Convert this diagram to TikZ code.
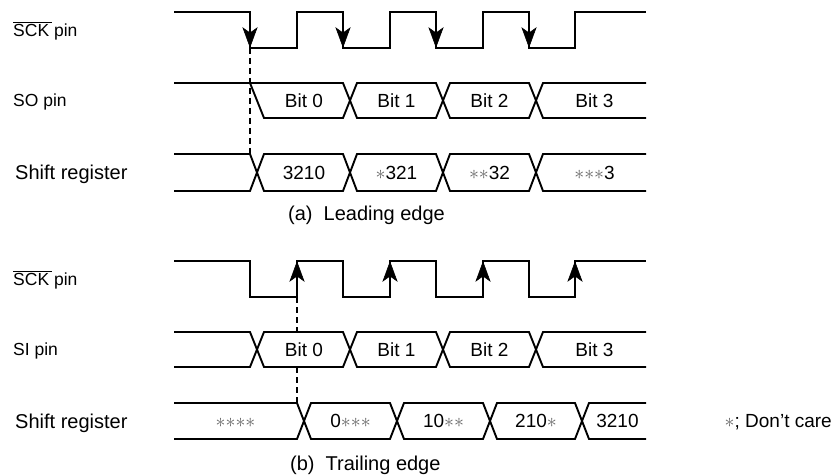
\documentclass[tikz,border=0pt]{standalone}
\usepackage{fontspec}
\setmainfont{Liberation Sans}
\definecolor{dcgray}{HTML}{666666}
\newcommand\dc{\textcolor{dcgray}{\scalebox{1.15}{${\ast}$}}}
\newcommand\ovlsck{\setbox0\hbox{SCK\,}\rlap{\raisebox{\dimexpr\ht0+1.6pt\relax}{\rule{\wd0}{0.7pt}}}SCK pin}
\tikzset{
  wave/.style={line width=1.9pt, line join=miter},
  head/.style={fill=black, draw=black, line width=0.6pt, line join=miter},
  guide/.style={line width=1.6pt, dash pattern=on 6pt off 4pt},
  pinlabel/.style={anchor=base west, font=\fontsize{17.5}{20}\selectfont, inner sep=0pt},
  reglabel/.style={anchor=base west, font=\fontsize{20}{24}\selectfont, inner sep=0pt},
  bit/.style={anchor=base, font=\fontsize{19}{22}\selectfont, inner sep=0pt},
  captext/.style={anchor=base west, font=\fontsize{20}{24}\selectfont, inner sep=0pt},
}
\begin{document}
\begin{tikzpicture}[x=1pt,y=-1pt]
\useasboundingbox (0,0) rectangle (836,476);

% ---------- (a) Leading edge ----------
\node[pinlabel] (lsckA) at (13,36.3) {\ovlsck};
\node[pinlabel] (lso) at (13,106.8) {SO pin};
\node[reglabel] (lsrA) at (15,179.7) {Shift register};

% SCK
\draw[wave] (174,12) -| (250,48) -| (297,12) -| (343,48) -| (390,12) -| (436,48) -| (483,12) -| (529,48) -| (575,12) -- (646,12);
\foreach \x in {250,343,436,529}
  \path[head] (\x,47) -- ++(-7,-19) -- ++(7,5) -- ++(7,-5) -- cycle;
% guide
\draw[guide] (250,48) -- (250,154);

% SO
\draw[wave] (174,83) -- (343,83) -- (357,118) -- (436,118) -- (450,83) -- (529,83) -- (543,118) -- (646,118);
\draw[wave] (250,83) -- (264,118) -- (343,118) -- (357,83) -- (436,83) -- (450,118) -- (529,118) -- (543,83) -- (646,83);
\node[bit] (so0) at (304,107.3) {Bit 0};
\node[bit] (so1) at (396.5,107.3) {Bit 1};
\node[bit] (so2) at (489.5,107.3) {Bit 2};
\node[bit] (so3) at (594.5,107.3) {Bit 3};

% Shift register (a)
\draw[wave] (174,154) -- (250,154) -- (264,191) -- (343,191) -- (357,154) -- (436,154) -- (450,191) -- (529,191) -- (543,154) -- (646,154);
\draw[wave] (174,191) -- (250,191) -- (264,154) -- (343,154) -- (357,191) -- (436,191) -- (450,154) -- (529,154) -- (543,191) -- (646,191);
\node[bit] (ra0) at (304,179.3) {3210};
\node[bit] (ra1) at (396.5,179.3) {\dc321};
\node[bit] (ra2) at (489.5,179.3) {\dc\dc32};
\node[bit] (ra3) at (594.5,179.3) {\dc\dc\dc3};

\node[captext] (capA) at (288,220) {(a)\hspace{0.55em}Leading edge};

% ---------- (b) Trailing edge ----------
\node[pinlabel] (lsckB) at (13,285.3) {\ovlsck};
\node[pinlabel] (lsi) at (13,355.8) {SI pin};
\node[reglabel] (lsrB) at (15,428.2) {Shift register};

% SCK
\draw[wave] (174,261) -| (250,297) -| (297,261) -| (343,297) -| (390,261) -| (436,297) -| (483,261) -| (529,297) -| (575,261) -- (646,261);
\foreach \x in {297,390,483,575}
  \path[head] (\x,262) -- ++(-7,19) -- ++(7,-5) -- ++(7,5) -- cycle;
% guide
\draw[guide] (297,297) -- (297,332);
\draw[guide] (297,367) -- (297,403);

% SI
\draw[wave] (174,332) -- (250,332) -- (264,367) -- (343,367) -- (357,332) -- (436,332) -- (450,367) -- (529,367) -- (543,332) -- (646,332);
\draw[wave] (174,367) -- (250,367) -- (264,332) -- (343,332) -- (357,367) -- (436,367) -- (450,332) -- (529,332) -- (543,367) -- (646,367);
\node[bit] (si0) at (304,356.3) {Bit 0};
\node[bit] (si1) at (396.5,356.3) {Bit 1};
\node[bit] (si2) at (489.5,356.3) {Bit 2};
\node[bit] (si3) at (594.5,356.3) {Bit 3};

% Shift register (b)
\draw[wave] (174,403) -- (297,403) -- (311,439) -- (390,439) -- (404,403) -- (483,403) -- (497,439) -- (575,439) -- (589,403) -- (646,403);
\draw[wave] (174,439) -- (297,439) -- (311,403) -- (390,403) -- (404,439) -- (483,439) -- (497,403) -- (575,403) -- (589,439) -- (646,439);
\node[bit] (rb0) at (235.5,427.8) {\dc\dc\dc\dc};
\node[bit] (rb1) at (350.5,427.8) {0\dc\dc\dc};
\node[bit] (rb2) at (443.5,427.8) {10\dc\dc};
\node[bit] (rb3) at (536,427.8) {210\dc};
\node[bit] (rb4) at (617.5,427.8) {3210};

\node[captext] (capB) at (290,470) {(b)\hspace{0.55em}Trailing edge};

\node[bit, anchor=base east] (note) at (832,427.8) {\dc; Don’t care};
\end{tikzpicture}
\end{document}
